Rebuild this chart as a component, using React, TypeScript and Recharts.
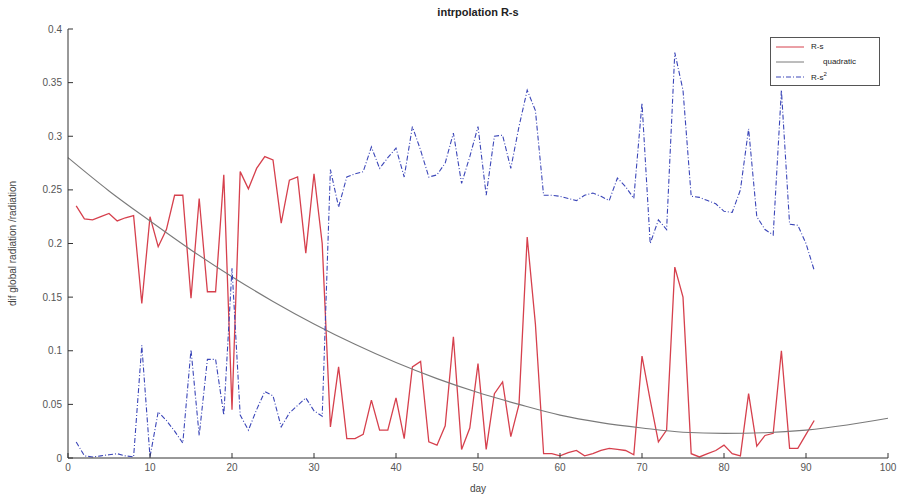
import { LineChart, Line, XAxis, YAxis, Legend } from "recharts";

// R-s per day (days 1..91)
const rsValues = [
  0.235, 0.223, 0.222, 0.225, 0.228, 0.221, 0.224, 0.226, 0.144, 0.225,
  0.197, 0.213, 0.245, 0.245, 0.149, 0.242, 0.155, 0.155, 0.264, 0.045,
  0.267, 0.251, 0.27, 0.281, 0.278, 0.219, 0.259, 0.262, 0.191, 0.265,
  0.2, 0.029, 0.085, 0.018, 0.018, 0.022, 0.054, 0.026, 0.026, 0.056,
  0.018, 0.085, 0.09, 0.015, 0.012, 0.03, 0.113, 0.008, 0.028, 0.088,
  0.008, 0.06, 0.071, 0.02, 0.05, 0.206, 0.125, 0.004, 0.004, 0.002,
  0.005, 0.007, 0.002, 0.004, 0.007, 0.009, 0.008, 0.007, 0.003, 0.095,
  0.054, 0.015, 0.026, 0.178, 0.15, 0.004, 0.001, 0.004, 0.007, 0.012,
  0.004, 0.002, 0.06, 0.011, 0.021, 0.023, 0.1, 0.009, 0.009, 0.022,
  0.035,
];

// R-s^2 per day (days 1..91)
const rs2Values = [
  0.015, 0.002, 0.001, 0.002, 0.003, 0.004, 0.002, 0.001, 0.105, 0.001,
  0.043, 0.035, 0.025, 0.014, 0.101, 0.021, 0.092, 0.092, 0.04, 0.177,
  0.04, 0.026, 0.045, 0.062, 0.058, 0.029, 0.042, 0.049, 0.056, 0.044,
  0.039, 0.269, 0.234, 0.262, 0.265, 0.267, 0.29, 0.27, 0.28, 0.289,
  0.262, 0.309, 0.287, 0.262, 0.264, 0.275, 0.303, 0.256, 0.281, 0.309,
  0.245, 0.3, 0.301, 0.27, 0.309, 0.343, 0.324, 0.245, 0.245, 0.244,
  0.242, 0.24, 0.245, 0.247, 0.244, 0.24, 0.261, 0.253, 0.242, 0.331,
  0.2, 0.222, 0.213, 0.378, 0.343, 0.244, 0.243, 0.24, 0.237, 0.23,
  0.229, 0.25, 0.307, 0.225, 0.213, 0.208, 0.343, 0.218, 0.217, 0.2,
  0.175,
];

// quadratic fit, read every 5 days
const quadDays = [0, 5, 10, 15, 20, 25, 30, 35, 40, 45, 50, 55, 60, 65, 70, 75, 80, 85, 90, 95, 100];
const quadValues = [
  0.28, 0.249, 0.221, 0.194, 0.169, 0.146, 0.125, 0.106, 0.089, 0.074,
  0.061, 0.05, 0.04, 0.033, 0.028, 0.024, 0.023, 0.0236, 0.026, 0.0307, 0.037,
];

const xTicks = [0, 10, 20, 30, 40, 50, 60, 70, 80, 90, 100];
const yTicks = [0, 0.05, 0.1, 0.15, 0.2, 0.25, 0.3, 0.35, 0.4];

const rsData = rsValues.map((v, i) => ({ day: i + 1, v }));
const rs2Data = rs2Values.map((v, i) => ({ day: i + 1, v }));
const quadData = quadDays.map((d, i) => ({ day: d, v: quadValues[i] }));

const FONT = '"Liberation Sans", Arial, Helvetica, sans-serif';
const RED = "#d6404d";
const BLUE = "#3b46b8";
const GRAY = "#7a7a7a";

function LegendBox() {
  const rows = [
    { color: RED, dash: undefined, label: <span>R-s</span>, indent: 0 },
    { color: GRAY, dash: undefined, label: <span>quadratic</span>, indent: 12 },
    {
      color: BLUE,
      dash: "5 2 1 2",
      label: (
        <span>
          R-s<sup style={{ fontSize: 6 }}>2</sup>
        </span>
      ),
      indent: 0,
    },
  ];
  return (
    <div
      style={{
        border: "1px solid #555",
        background: "#fff",
        padding: "1px 4px",
        width: 100,
        fontFamily: FONT,
        fontSize: 8,
        color: "#222",
      }}
    >
      {rows.map((r, i) => (
        <div key={i} style={{ display: "flex", alignItems: "center", height: 15 }}>
          <svg width={30} height={6}>
            <line x1={1} y1={3} x2={29} y2={3} stroke={r.color} strokeWidth={1} strokeDasharray={r.dash} />
          </svg>
          <span style={{ marginLeft: 6 + r.indent }}>{r.label}</span>
        </div>
      ))}
    </div>
  );
}

export default function App() {
  return (
    <div style={{ position: "absolute", left: 0, top: 0, width: 900, height: 497, background: "#fff" }}>
      <div
        style={{
          position: "absolute",
          left: 0,
          width: 956,
          top: 6,
          textAlign: "center",
          fontFamily: FONT,
          fontWeight: "bold",
          fontSize: 11,
          color: "#222",
        }}
      >
        intrpolation R-s
      </div>
      <LineChart
        width={900}
        height={497}
        margin={{ top: 29, right: 12, bottom: 3, left: 8 }}
        style={{ fontFamily: FONT }}
      >
        <XAxis
          type="number"
          dataKey="day"
          domain={[0, 100]}
          ticks={xTicks}
          height={36}
          stroke="#333"
          tickSize={-5}
          tickMargin={11}
          tick={{ fill: "#555", fontSize: 10 }}
          label={{ value: "day", position: "insideBottom", offset: 2, fill: "#444", fontSize: 10 }}
        />
        <YAxis
          type="number"
          domain={[0, 0.4]}
          ticks={yTicks}
          width={60}
          stroke="#333"
          tickSize={-5}
          tickMargin={11}
          tick={{ fill: "#555", fontSize: 10 }}
          label={{
            value: "dif global radiation /radiation",
            angle: -90,
            position: "insideLeft",
            offset: 4,
            fill: "#444",
            fontSize: 10,
            style: { textAnchor: "middle" },
          }}
        />
        <Legend
          layout="vertical"
          align="center"
          verticalAlign="middle"
          content={<LegendBox />}
          wrapperStyle={{ top: 37, left: 770, width: "auto" }}
        />
        <Line
          data={rsData}
          dataKey="v"
          name="R-s"
          type="linear"
          stroke={RED}
          strokeWidth={1.3}
          dot={false}
          isAnimationActive={false}
        />
        <Line
          data={quadData}
          dataKey="v"
          name="quadratic"
          type="monotone"
          stroke={GRAY}
          strokeWidth={1.1}
          dot={false}
          isAnimationActive={false}
        />
        <Line
          data={rs2Data}
          dataKey="v"
          name="R-s²"
          type="linear"
          stroke={BLUE}
          strokeWidth={1.1}
          strokeDasharray="5 2 1 2"
          dot={false}
          isAnimationActive={false}
        />
      </LineChart>
    </div>
  );
}
